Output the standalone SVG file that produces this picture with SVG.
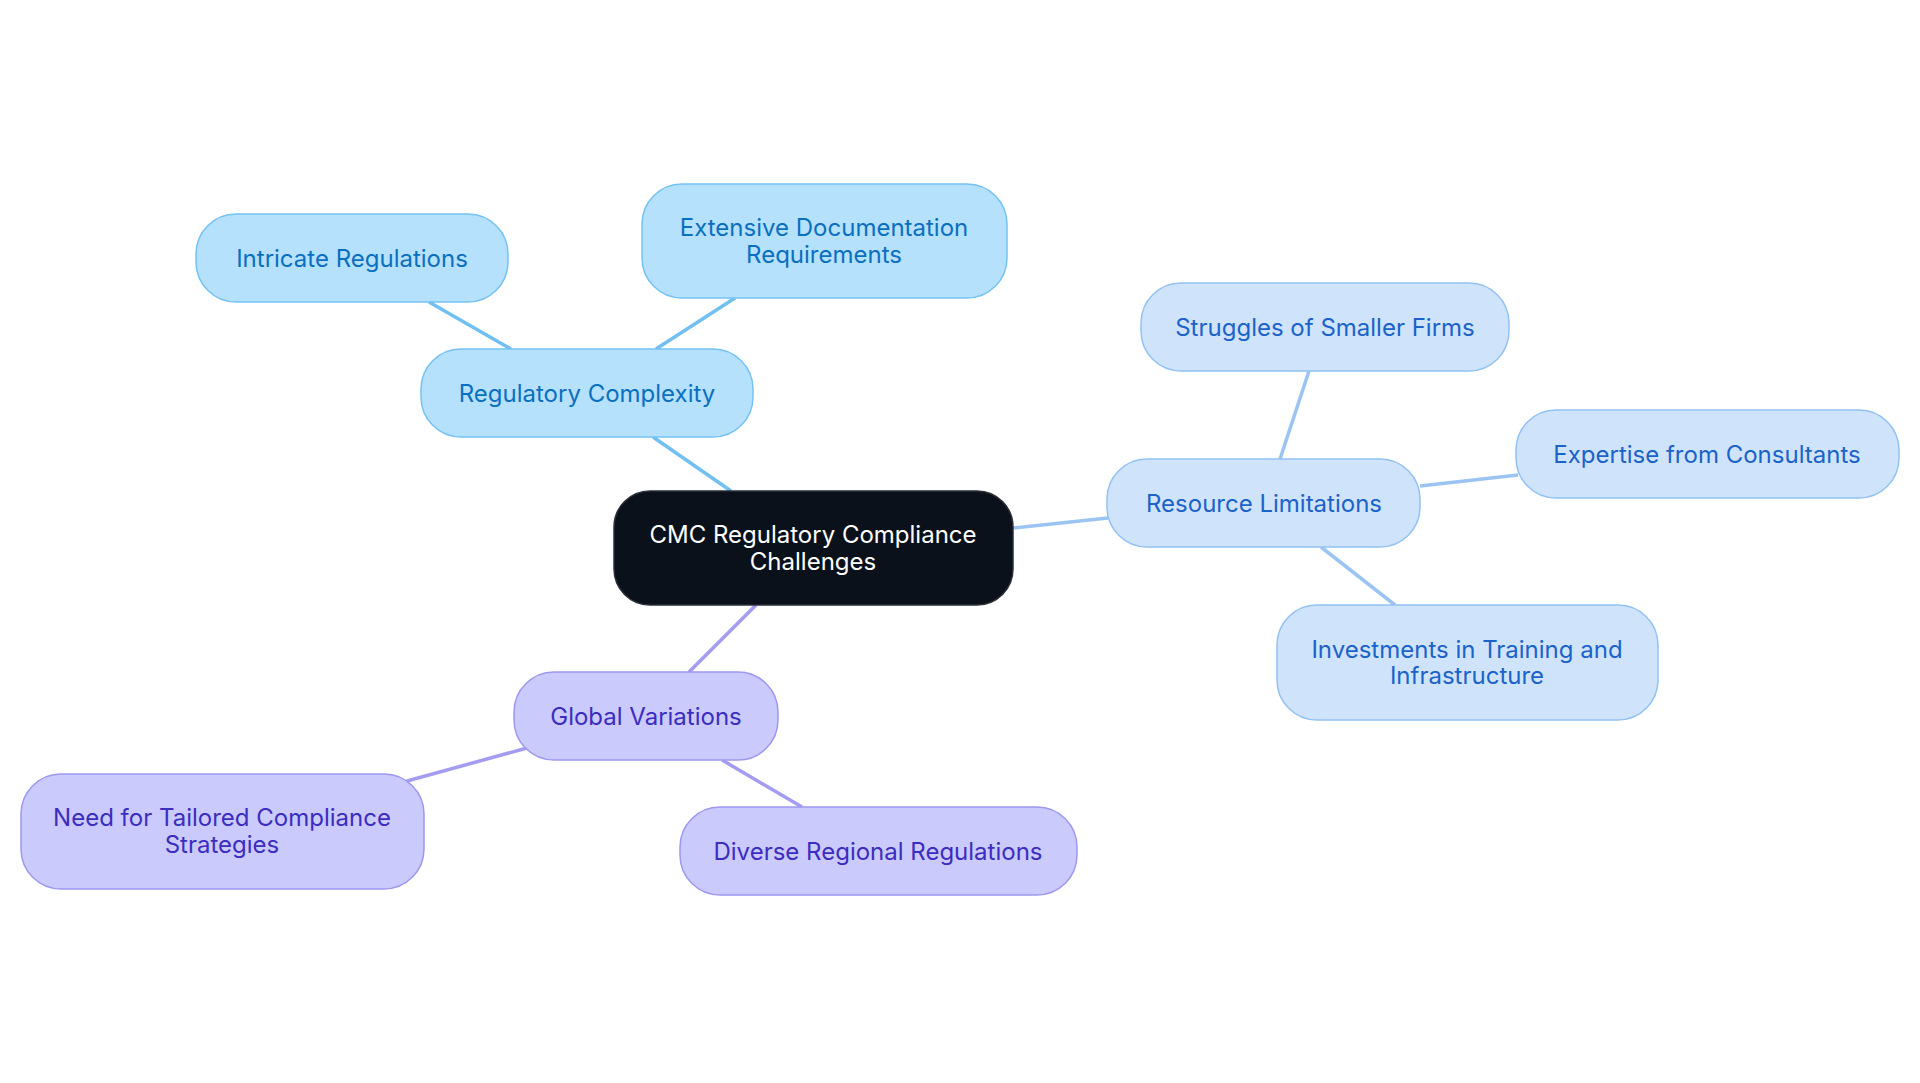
<svg xmlns="http://www.w3.org/2000/svg" width="1920" height="1083" viewBox="0 0 1920 1083">
<style>
text{font-family:Inter,"Noto Sans",sans-serif;font-size:24px;text-anchor:middle;dominant-baseline:central}
.a rect{fill:#b5e1fd;stroke:#74c2f4;stroke-width:1.5}
.a text{fill:#0b6fbf}
.b rect{fill:#cfe4fb;stroke:#92c1f3;stroke-width:1.5}
.b text{fill:#1b62c9}
.c rect{fill:#cbcafc;stroke:#9d98ef;stroke-width:1.5}
.c text{fill:#3b2dbf}
#edges line{stroke-width:3.5;fill:none}
.ea{stroke:#72bff2}.eb{stroke:#9cc4f2}.ec{stroke:#a39cf0}
</style>
<rect width="1920" height="1083" fill="#fff"/>
<g id="edges">
<line class="ea" x1="731" y1="491" x2="653" y2="437"/>
<line class="ea" x1="511" y1="349" x2="429" y2="302"/>
<line class="ea" x1="656" y1="349" x2="735" y2="298"/>
<line class="eb" x1="1013" y1="528" x2="1108" y2="518"/>
<line class="eb" x1="1280" y1="459" x2="1309" y2="371"/>
<line class="eb" x1="1420" y1="486" x2="1518" y2="475"/>
<line class="eb" x1="1321" y1="547" x2="1395" y2="605"/>
<line class="ec" x1="756" y1="605" x2="689" y2="672"/>
<line class="ec" x1="527" y1="748" x2="407" y2="781"/>
<line class="ec" x1="722" y1="760" x2="802" y2="807"/>
</g>
<g id="center"><rect x="614" y="491" width="399" height="114" rx="36" fill="#0b111b" stroke="#2a2f38" stroke-width="1.5"/><text x="813" y="534" fill="#fff">CMC Regulatory Compliance</text><text x="813" y="561" fill="#fff">Challenges</text></g>
<g id="rc" class="a"><rect x="421" y="349" width="332" height="88" rx="40"/><text x="587" y="393">Regulatory Complexity</text></g>
<g id="ir" class="a"><rect x="196" y="214" width="312" height="88" rx="40"/><text x="352" y="258">Intricate Regulations</text></g>
<g id="ed" class="a"><rect x="642" y="184" width="365" height="114" rx="40"/><text x="824" y="227">Extensive Documentation</text><text x="824" y="254">Requirements</text></g>
<g id="rl" class="b"><rect x="1107" y="459" width="313" height="88" rx="40"/><text x="1264" y="503">Resource Limitations</text></g>
<g id="sf" class="b"><rect x="1141" y="283" width="368" height="88" rx="40"/><text x="1325" y="327">Struggles of Smaller Firms</text></g>
<g id="ec" class="b"><rect x="1516" y="410" width="383" height="88" rx="40"/><text x="1707" y="454">Expertise from Consultants</text></g>
<g id="it" class="b"><rect x="1277" y="605" width="381" height="115" rx="40"/><text x="1467" y="649">Investments in Training and</text><text x="1467" y="675">Infrastructure</text></g>
<g id="gv" class="c"><rect x="514" y="672" width="264" height="88" rx="40"/><text x="646" y="716">Global Variations</text></g>
<g id="nt" class="c"><rect x="21" y="774" width="403" height="115" rx="40"/><text x="222" y="817">Need for Tailored Compliance</text><text x="222" y="844">Strategies</text></g>
<g id="dr" class="c"><rect x="680" y="807" width="397" height="88" rx="40"/><text x="878" y="851">Diverse Regional Regulations</text></g>
</svg>
